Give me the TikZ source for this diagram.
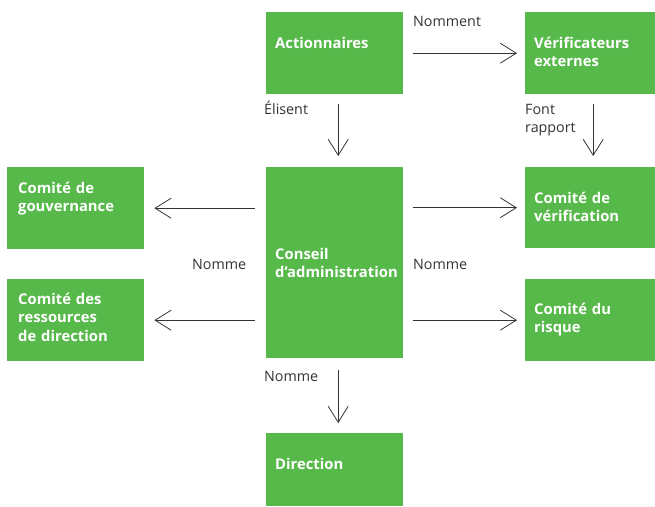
\documentclass[tikz,border=0pt]{standalone}
\usepackage{fontspec}
\setmainfont{Open Sans}
\usetikzlibrary{arrows.meta,positioning}
\definecolor{boxgreen}{RGB}{88,185,75}
\definecolor{arrowgrey}{RGB}{51,51,51}

\begin{document}
\begin{tikzpicture}[x=1pt, y=-1pt,
    box/.style={fill=boxgreen, draw=none, inner sep=0pt, anchor=north west},
    boxtext/.style={anchor=base west, text=white, inner sep=0pt, align=left, text width=130pt,
        font=\fontsize{14.8}{18.5}\selectfont\bfseries},
    lbl/.style={anchor=base west, text=arrowgrey, inner sep=0pt, align=left, text width=80pt,
        font=\fontsize{14.3}{18}\selectfont},
    link/.style={draw=arrowgrey, line width=0.8pt, -{Straight Barb[length=16pt,width=20pt]}}]
    \useasboundingbox (0,0) rectangle (655,506);

    % boxes
    \node[box, minimum width=137pt, minimum height=82pt] (act) at (266,12) {};
    \node[box, minimum width=130pt, minimum height=82pt] (ver) at (525,12) {};
    \node[box, minimum width=137pt, minimum height=82pt] (gouv) at (7,167) {};
    \node[box, minimum width=137pt, minimum height=191pt] (cons) at (266,167) {};
    \node[box, minimum width=137pt, minimum height=82pt] (ress) at (7,279) {};
    \node[box, minimum width=130pt, minimum height=81pt] (verif) at (525,167) {};
    \node[box, minimum width=130pt, minimum height=82pt] (risq) at (525,279) {};
    \node[box, minimum width=137pt, minimum height=73pt] (dir) at (266,433) {};

    % box texts
    \node[boxtext] (act-t) at (275,48) {Actionnaires};
    \node[boxtext] (ver-t) at (534,48) {Vérificateurs\\externes};
    \node[boxtext] (gouv-t) at (18,193) {Comité de\\gouvernance};
    \node[boxtext] (cons-t) at (275,259) {Conseil\\d’administration};
    \node[boxtext] (ress-t) at (18,304) {Comité des\\ressources\\de direction};
    \node[boxtext] (verif-t) at (534,203) {Comité de\\vérification};
    \node[boxtext] (risq-t) at (534,314) {Comité du\\risque};
    \node[boxtext] (dir-t) at (275,469) {Direction};

    % labels
    \node[lbl] (nomment) at (413,27) {Nomment};
    \node[lbl] (elisent) at (264,114) {Élisent};
    \node[lbl] (rapport) at (525,114) {Font\\rapport};
    \node[lbl] (nomme-g) at (192,269) {Nomme};
    \node[lbl] (nomme-d) at (413,269) {Nomme};
    \node[lbl] (nomme-b) at (264,381) {Nomme};

    % arrows
    \draw[link, shorten <=10pt, shorten >=8pt] (act.east) -- (ver.west);
    \draw[link, shorten <=10pt, shorten >=11pt] ([xshift=3.5pt]act.south) -- ([xshift=3.5pt]act.south |- cons.north);
    \draw[link, shorten <=10pt, shorten >=11pt] ([xshift=3pt]ver.south) -- ([xshift=3pt]ver.south |- verif.north);
    \draw[link, shorten <=11pt, shorten >=10pt] (cons.west |- gouv.east) -- (gouv.east);
    \draw[link, shorten <=11pt, shorten >=10pt] (cons.west |- ress.east) -- (ress.east);
    \draw[link, shorten <=10pt, shorten >=8pt] (cons.east |- verif.west) -- (verif.west);
    \draw[link, shorten <=10pt, shorten >=8pt] (cons.east |- risq.west) -- (risq.west);
    \draw[link, shorten <=12pt, shorten >=10pt] ([xshift=3.5pt]cons.south) -- ([xshift=3.5pt]dir.north);
\end{tikzpicture}
\end{document}
